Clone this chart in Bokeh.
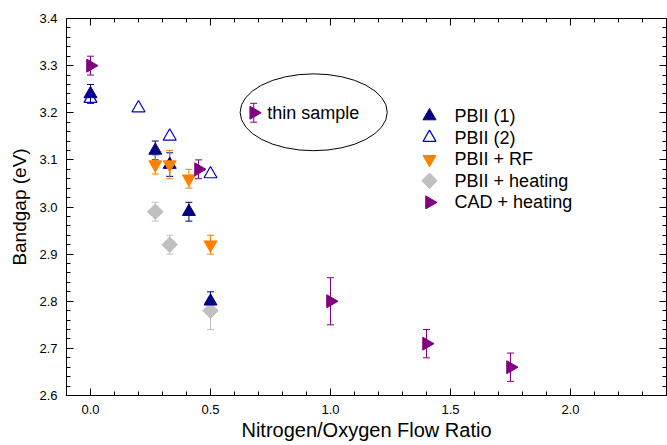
import numpy as np
from bokeh.plotting import figure
from bokeh.models import (ColumnDataSource, Whisker, TeeHead, FixedTicker, LinearAxis,
                          Range1d, PrintfTickFormatter, CustomJSTickFormatter)
from bokeh.core.properties import value
from bokeh.embed import file_html
from bokeh.resources import INLINE

FONT = "Liberation Sans"

# ---- data ----
pb1_x = [0.0, 0.27, 0.33, 0.41, 0.5]
pb1_y = [3.24, 3.12, 3.09, 2.99, 2.80]
pb1_e = [0.02, 0.02, 0.025, 0.02, 0.02]

pb2_x = [0.0, 0.2, 0.33, 0.5]
pb2_y = [3.23, 3.21, 3.15, 3.07]

rf_x = [0.27, 0.33, 0.41, 0.5]
rf_y = [3.09, 3.09, 3.06, 2.92]
rf_e = [0.02, 0.03, 0.02, 0.02]

ht_x = [0.27, 0.33, 0.5]
ht_y = [2.99, 2.92, 2.78]
ht_elo = [0.02, 0.02, 0.04]
ht_ehi = [0.02, 0.02, 0.02]

cad_x = [0.0, 0.45, 1.0, 1.4, 1.75]
cad_y = [3.30, 3.08, 2.80, 2.71, 2.66]
cad_e = [0.02, 0.02, 0.05, 0.03, 0.03]

thin_x = [0.68]
thin_y = [3.20]
thin_e = [0.02]

legend_labels = ["PBII (1)", "PBII (2)", "PBII + RF", "PBII + heating", "CAD + heating"]

note_text = "thin sample"

x_major = [0.0, 0.5, 1.0, 1.5, 2.0]
y_major = [2.6, 2.7, 2.8, 2.9, 3.0, 3.1, 3.2, 3.3, 3.4]

# ---- layout / style constants ----
NOTE_X, NOTE_Y = 0.736, 3.20
ELL_X, ELL_Y, ELL_W, ELL_H = 0.93, 3.201, 0.613, 0.163
LEG_X, LEG_TXT_X, LEG_TOP, LEG_STEP = 1.4125, 1.517, 3.193, 0.0458

NAVY = "#000080"
BLUE = "#0000CC"
ORANGE = "#FF8000"
GRAY = "#C0C0C0"
PURPLE = "#800080"

p = figure(width=667, height=445, output_backend="svg", toolbar_location=None,
           x_range=Range1d(-0.1, 2.4), y_range=Range1d(2.6, 3.4),
           min_border_left=66, min_border_right=1, min_border_top=18, min_border_bottom=50)
p.grid.visible = False
p.outline_line_color = "black"
p.background_fill_color = "white"
p.border_fill_color = "white"

x_minor = list(np.round(np.arange(-0.1, 2.41, 0.1), 2))
y_minor = list(np.round(np.arange(2.6, 3.401, 0.02), 2))

def style_axis(ax, major, minor, show_labels=True):
    ax.ticker = FixedTicker(ticks=major, minor_ticks=minor)
    ax.major_tick_in = 7
    ax.major_tick_out = 0
    ax.minor_tick_in = 4
    ax.minor_tick_out = 0
    ax.axis_line_color = "black"
    ax.major_tick_line_color = "black"
    ax.minor_tick_line_color = "black"
    ax.major_label_text_font = FONT
    ax.major_label_text_font_size = "13px"
    ax.major_label_text_color = "black"
    ax.axis_label_text_font = FONT
    ax.axis_label_text_font_style = "normal"
    ax.axis_label_text_color = "black"
    if show_labels:
        ax.formatter = PrintfTickFormatter(format="%.1f")
    else:
        ax.formatter = CustomJSTickFormatter(code="return ''")
        ax.major_label_standoff = 0

style_axis(p.xaxis[0], x_major, x_minor)
style_axis(p.yaxis[0], y_major, y_minor)
p.xaxis[0].axis_label = "Nitrogen/Oxygen Flow Ratio"
p.yaxis[0].axis_label = "Bandgap (eV)"
p.xaxis[0].axis_label_text_font_size = "20px"
p.yaxis[0].axis_label_text_font_size = "19px"
p.xaxis[0].major_label_standoff = 9
p.yaxis[0].major_label_standoff = 9
p.xaxis[0].axis_label_standoff = 2
p.yaxis[0].axis_label_standoff = 6

top = LinearAxis()
style_axis(top, x_major, x_minor, show_labels=False)
p.add_layout(top, "above")
right = LinearAxis()
style_axis(right, y_major, y_minor, show_labels=False)
p.add_layout(right, "right")

# ellipse annotation with note
p.ellipse(x=[ELL_X], y=[ELL_Y], width=[ELL_W], height=[ELL_H],
          fill_color=None, line_color="black", line_width=1)
p.text(x=[NOTE_X], y=[NOTE_Y], text=[note_text], text_font_size="18px",
       text_baseline="middle", text_align="left", text_color="black",
       text_font=value(FONT))

def errbars(xs, ys, lo, hi, color):
    src = ColumnDataSource(dict(base=xs, lower=[y - l for y, l in zip(ys, lo)],
                                upper=[y + h for y, h in zip(ys, hi)]))
    w = Whisker(source=src, base="base", lower="lower", upper="upper",
                line_color=color, line_width=1,
                upper_head=TeeHead(size=7, line_color=color, line_width=1),
                lower_head=TeeHead(size=7, line_color=color, line_width=1))
    p.add_layout(w)

errbars(pb1_x, pb1_y, pb1_e, pb1_e, NAVY)
errbars(rf_x, rf_y, rf_e, rf_e, ORANGE)
errbars(ht_x, ht_y, ht_elo, ht_ehi, GRAY)
errbars(cad_x, cad_y, cad_e, cad_e, PURPLE)
errbars(thin_x, thin_y, thin_e, thin_e, PURPLE)

styles = [
    dict(marker="triangle", size=13, fill_color=NAVY, line_color=NAVY),
    dict(marker="triangle", size=13, fill_color=None, line_color=BLUE, line_width=1.2),
    dict(marker="inverted_triangle", size=13, fill_color=ORANGE, line_color=ORANGE),
    dict(marker="square", angle=np.pi / 4, size=11, fill_color=GRAY, line_color=GRAY),
    dict(marker="triangle", angle=-np.pi / 2, size=13, fill_color=PURPLE, line_color=PURPLE),
]
series = [(pb1_x, pb1_y), (pb2_x, pb2_y), (rf_x, rf_y), (ht_x, ht_y), (cad_x, cad_y)]
draw_order = [3, 0, 1, 2, 4]
for i in draw_order:
    xs, ys = series[i]
    p.scatter(xs, ys, **styles[i])
p.scatter(thin_x, thin_y, **styles[4])

# legend (drawn in plot so that rotated markers show correctly)
n = len(legend_labels)
leg_y = [LEG_TOP - k * LEG_STEP for k in range(n)]
for k in range(n):
    p.scatter([LEG_X], [leg_y[k]], **styles[k])
p.text(x=[LEG_TXT_X] * n, y=leg_y, text=legend_labels, text_font_size="18px",
       text_baseline="middle", text_align="left", text_color="black",
       text_font=value(FONT))

open("out.html", "w").write(file_html(p, INLINE))
